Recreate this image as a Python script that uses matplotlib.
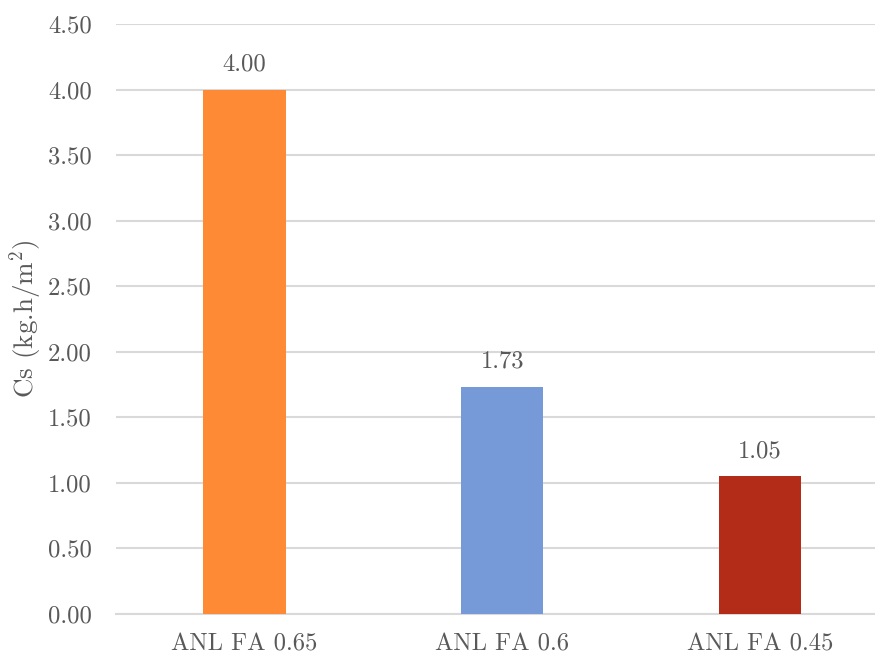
import numpy as np
import matplotlib.pyplot as plt

# Cs values for each mix
mixes = ["ANL FA 0.65", "ANL FA 0.6", "ANL FA 0.45"]
cs_values = [4.00, 1.73, 1.05]
bar_colors = ["#FF8A36", "#769AD8", "#B22C17"]

plt.rcParams['font.family'] = 'serif'
plt.rcParams['font.serif'] = ['cmr10', 'DejaVu Serif']
plt.rcParams['mathtext.fontset'] = 'cm'
plt.rcParams['axes.formatter.use_mathtext'] = True

txt_color = "#595959"
grid_color = "#D9D9D9"
fs = 17.7

fig = plt.figure(figsize=(8.75, 6.54), dpi=100)
ax = fig.add_axes([0.1322, 0.0619, 0.8836, 0.9014])

x = np.arange(len(mixes))
bars = ax.bar(x, cs_values, width=0.32, color=bar_colors, zorder=3)

for xi, v in zip(x, cs_values):
    ax.annotate(f"{v:.2f}", (xi, v), xytext=(0, 10), textcoords="offset points",
                ha="center", va="bottom", fontsize=fs, color=txt_color)

ax.set_xlim(-0.5, 2.5)
ax.set_ylim(0, 4.5)
ax.set_yticks(np.arange(0, 4.51, 0.5))
ax.set_yticklabels([f"{t:.2f}" for t in np.arange(0, 4.51, 0.5)])
ax.set_xticks(x)
ax.set_xticklabels(mixes)

ax.grid(axis="y", color=grid_color, linewidth=1.5, zorder=0)
ax.set_axisbelow(True)
for s in ["top", "right", "left"]:
    ax.spines[s].set_visible(False)
ax.spines["bottom"].set_color(grid_color)
ax.spines["bottom"].set_linewidth(1.5)

ax.tick_params(axis="y", length=0, pad=17, labelsize=fs, labelcolor=txt_color)
ax.tick_params(axis="x", length=0, pad=14, labelsize=fs, labelcolor=txt_color)

ax.set_ylabel(r"Cs (kg.h/m$^2$)", fontsize=19.5, color=txt_color)
ax.yaxis.set_label_coords(-0.093, 0.5)

fig.savefig("out.png", dpi=100)
